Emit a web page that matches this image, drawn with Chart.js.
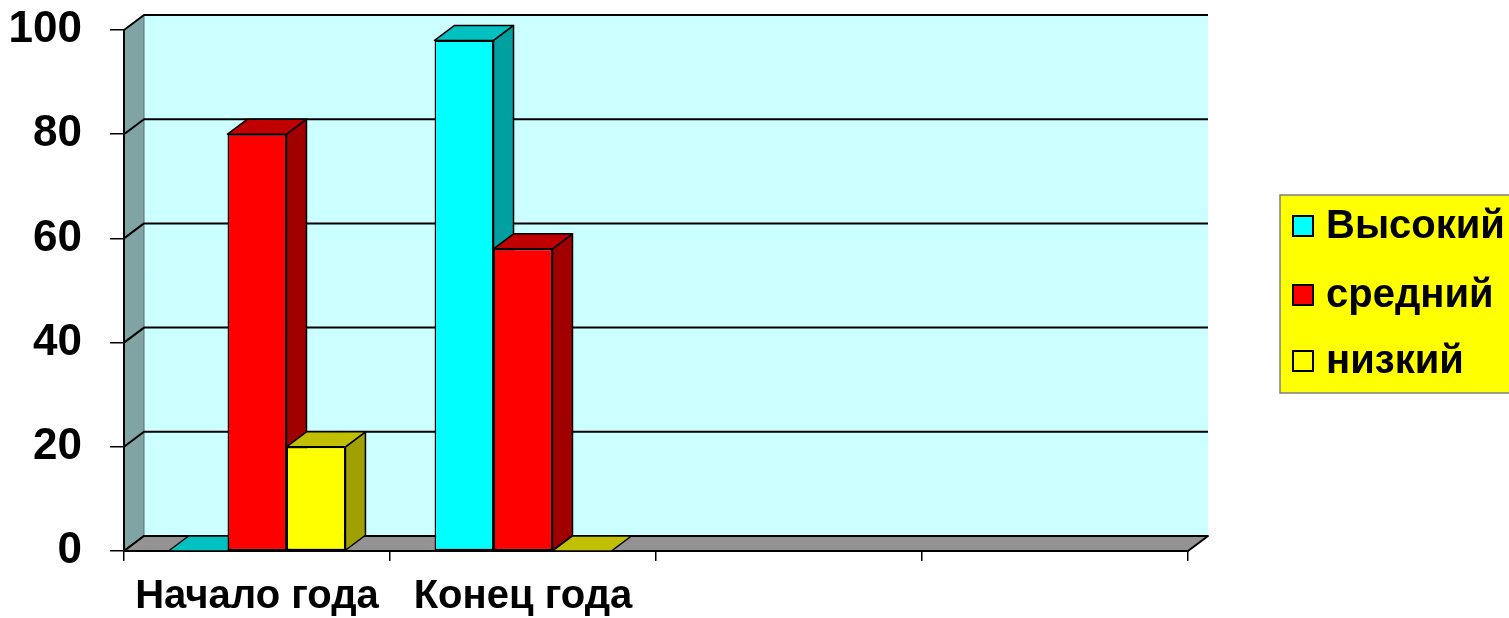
<!DOCTYPE html>
<html lang="ru">
<head>
<meta charset="utf-8">
<title>Уровни</title>
<script src="https://cdn.jsdelivr.net/npm/chart.js@4.4.1/dist/chart.umd.min.js"></script>
<style>
  html, body { margin: 0; padding: 0; background: #fff; }
  .chart-wrap { position: relative; width: 1509px; height: 618px; }
</style>
</head>
<body>
<div class="chart-wrap"><canvas id="level-chart"></canvas></div>
<script>
const categories = ['Начало года', 'Конец года', '', ''];
const seriesNames = ['Высокий', 'средний', 'низкий'];
const highValues = [0, 98, null, null];
const midValues = [80, 58, null, null];
const lowValues = [20, 0, null, null];
const yTicks = [0, 20, 40, 60, 80, 100];

const FONT = '"Liberation Sans", Arial, sans-serif';
const DX = 20, DY = 15;   // глубина 3D
const faceColors = [
  { front: '#00FFFF', side: '#00A0A0', top: '#00C0C0' },
  { front: '#FF0000', side: '#A00000', top: '#C00000' },
  { front: '#FFFF00', side: '#A0A000', top: '#C0C000' },
];

function poly(ctx, pts, fill, stroke, lw) {
  ctx.beginPath();
  ctx.moveTo(pts[0][0], pts[0][1]);
  for (let i = 1; i < pts.length; i++) ctx.lineTo(pts[i][0], pts[i][1]);
  ctx.closePath();
  if (fill) { ctx.fillStyle = fill; ctx.fill(); }
  if (stroke) { ctx.strokeStyle = stroke; ctx.lineWidth = lw; ctx.stroke(); }
}

// стены, пол и сетка на задней стене
const wallsPlugin = {
  id: 'walls',
  beforeDraw(chart) {
    const { ctx, chartArea: a, scales: { y } } = chart;
    const L = a.left, R = a.right;
    const T = y.getPixelForValue(yTicks[yTicks.length - 1]);
    const B = y.getPixelForValue(yTicks[0]);
    ctx.save();
    ctx.lineJoin = 'round';
    ctx.fillStyle = '#CCFFFF';
    ctx.fillRect(L + DX, T - DY, R - L, B - T);
    poly(ctx, [[L, B], [L, T], [L + DX, T - DY], [L + DX, B - DY]], '#80A4A4', null);
    ctx.strokeStyle = '#5A7070';
    ctx.lineWidth = 1;
    ctx.beginPath();
    ctx.moveTo(L + DX, T - DY);
    ctx.lineTo(L + DX, B - DY);
    ctx.stroke();
    yTicks.forEach(v => {
      const py = y.getPixelForValue(v);
      ctx.strokeStyle = '#000';
      ctx.lineWidth = 2;
      ctx.beginPath();
      ctx.moveTo(L, py);
      ctx.lineTo(L + DX, py - DY);
      ctx.lineTo(R + DX, py - DY);
      ctx.stroke();
    });
    poly(ctx, [[L, B], [R, B], [R + DX, B - DY], [L + DX, B - DY]], '#939393', '#000', 2);
    ctx.restore();
  }
};

// боковые и верхние грани столбиков
const bars3dPlugin = {
  id: 'bars3d',
  beforeDatasetsDraw(chart) {
    const { ctx } = chart;
    ctx.save();
    ctx.lineJoin = 'round';
    categories.forEach((c, i) => {
      chart.data.datasets.forEach((ds, d) => {
        if (ds.data[i] === null) return;
        const el = chart.getDatasetMeta(d).data[i];
        const { x, y, base, width } = el.getProps(['x', 'y', 'base', 'width'], true);
        const l = x - width / 2, r = x + width / 2;
        const col = faceColors[d];
        if (base - y > 0.5) {
          poly(ctx, [[r, y], [r + DX, y - DY], [r + DX, base - DY], [r, base]], col.side, '#000', 1.5);
        }
        poly(ctx, [[l, y], [l + DX, y - DY], [r + DX, y - DY], [r, y]], col.top, '#000', 1.5);
      });
    });
    ctx.restore();
  }
};

// легенда на жёлтом фоне
const legendPlugin = {
  id: 'boxLegend',
  afterDraw(chart) {
    const { ctx } = chart;
    const bx = 1280, by = 195, bw = 240, bh = 198;
    const rows = [226, 295, 361];
    ctx.save();
    ctx.fillStyle = '#FFFF00';
    ctx.fillRect(bx, by, bw, bh);
    ctx.strokeStyle = '#808080';
    ctx.lineWidth = 1.5;
    ctx.strokeRect(bx, by, bw, bh);
    chart.data.datasets.forEach((ds, d) => {
      const cy = rows[d];
      ctx.fillStyle = faceColors[d].front;
      ctx.fillRect(1293, cy - 10, 20, 20);
      ctx.strokeStyle = '#000';
      ctx.lineWidth = 2;
      ctx.strokeRect(1293, cy - 10, 20, 20);
      ctx.fillStyle = '#000';
      ctx.font = 'bold 40px ' + FONT;
      ctx.textBaseline = 'middle';
      ctx.textAlign = 'left';
      ctx.fillText(ds.label, 1326, cy + 1);
    });
    ctx.restore();
  }
};

const seriesValues = [highValues, midValues, lowValues];

new Chart(document.getElementById('level-chart'), {
  type: 'bar',
  data: {
    labels: categories,
    datasets: seriesNames.map((name, i) => ({
      label: name,
      data: seriesValues[i],
      backgroundColor: faceColors[i].front,
      borderColor: '#000',
      borderWidth: c => (c.raw === 0 ? 0 : 1.5),
      borderSkipped: false,
      categoryPercentage: 0.665,
      barPercentage: 1,
    })),
  },
  options: {
    responsive: true,
    maintainAspectRatio: false,
    animation: false,
    layout: { padding: { top: 30, right: 321, left: 0, bottom: 0 } },
    plugins: { legend: { display: false }, tooltip: { enabled: false } },
    scales: {
      x: {
        grid: { offset: true, drawOnChartArea: false, tickLength: 10, color: '#000', lineWidth: 1.5 },
        border: { color: '#000', width: 2 },
        ticks: {
          color: '#000',
          font: { family: FONT, size: 40, weight: 'bold' },
          padding: 12,
          maxRotation: 0,
          autoSkip: false,
        },
        afterFit: s => { s.height = 67; },
      },
      y: {
        min: yTicks[0],
        max: yTicks[yTicks.length - 1],
        afterBuildTicks: s => { s.ticks = yTicks.map(v => ({ value: v })); },
        grid: { drawOnChartArea: false, tickLength: 14, color: '#000', lineWidth: 1.5 },
        border: { color: '#000', width: 2 },
        ticks: {
          color: '#000',
          font: { family: FONT, size: 44, weight: 'bold' },
          padding: 28,
        },
        // ширина оси фиксирована, верх/низ не сдвигают область графика
        afterFit: s => { s.width = 124; s.paddingTop = 0; s.paddingBottom = 0; },
      },
    },
  },
  plugins: [wallsPlugin, bars3dPlugin, legendPlugin],
});
</script>
</body>
</html>
